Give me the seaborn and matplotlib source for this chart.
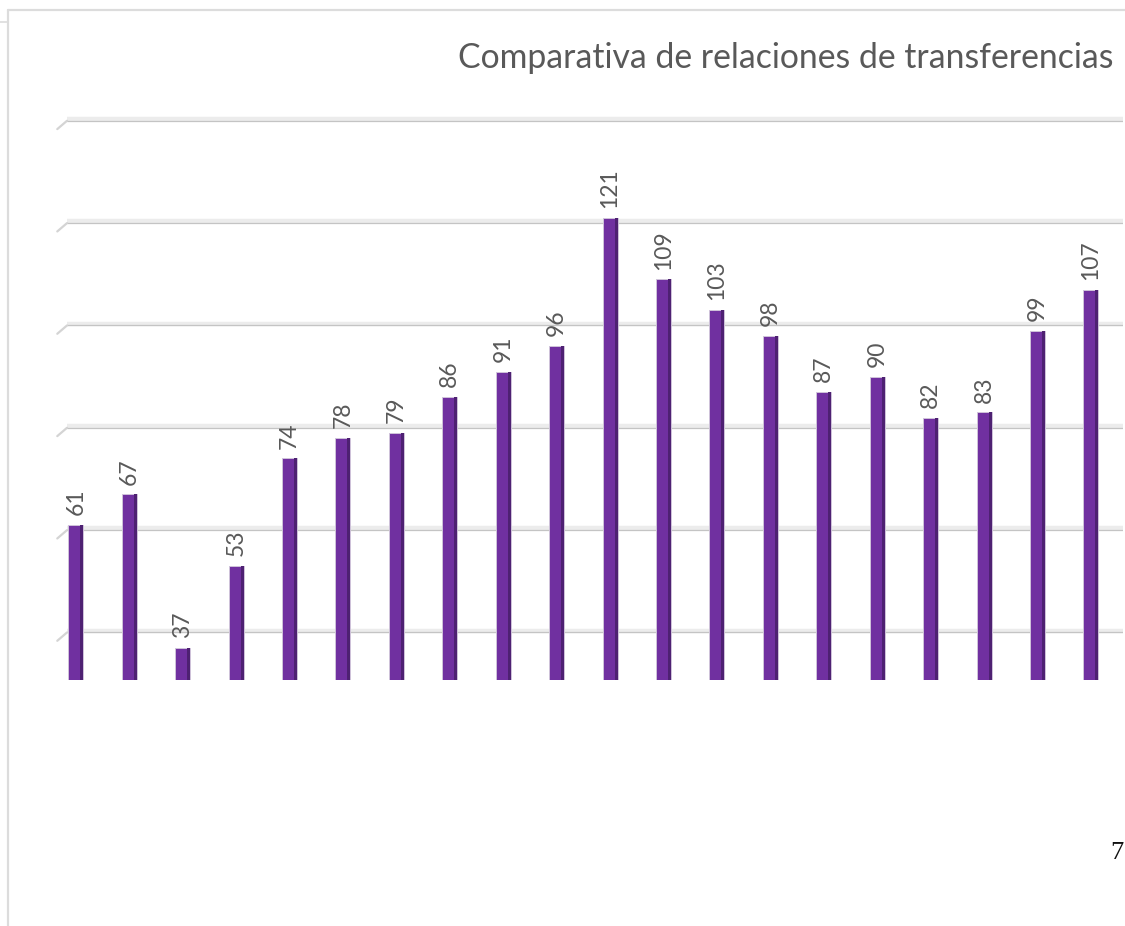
import matplotlib
matplotlib.use("Agg")
import matplotlib.pyplot as plt
import matplotlib.patheffects as pe
from matplotlib.lines import Line2D
from matplotlib.patches import Rectangle
import seaborn as sns

# data (20 bars, categories unlabeled in the crop)
categories = [str(i + 1) for i in range(20)]
values = [61, 67, 37, 53, 74, 78, 79, 86, 91, 96,
          121, 109, 103, 98, 87, 90, 82, 83, 99, 107]
grid_ticks = [40, 60, 80, 100, 120, 140]
title = "Comparativa de relaciones de transferencias"
page_number = "7"

sns.set_theme(style="white")
plt.rcParams["font.family"] = ["Lato", "DejaVu Sans"]

W, H = 1125, 926
fig = plt.figure(figsize=(W / 100, H / 100), dpi=100)
ax = fig.add_axes([67 / W, (H - 680) / H, (1123 - 67) / W, (680 - 100) / H])

sns.barplot(x=categories, y=values, color="#7030A0", saturation=1,
            width=0.28, edgecolor="#cfc3da", linewidth=0.7, ax=ax, zorder=3)

# darker right side of each bar for the 3D look
for p in ax.patches:
    x0, w, h = p.get_x(), p.get_width(), p.get_height()
    ax.add_patch(Rectangle((x0 + w * 0.8, 0), w * 0.2, h,
                           facecolor="#4e2172", edgecolor="none", zorder=3.5))

ax.bar_label(ax.containers[0], rotation=90, padding=7,
             color="#595959", fontsize=16.5)

ax.set_xlim(-0.165, 19.6)
ax.set_ylim(30.71, 144.06)
ax.set_yticks(grid_ticks)
ax.set_yticklabels([])
ax.set_xticks([])
ax.set_xlabel("")
ax.set_ylabel("")
ax.grid(axis="y", color="#c4c4c4", linewidth=0.9, zorder=1)
ax.set_axisbelow(True)
for gl in ax.yaxis.get_gridlines():
    gl.set_path_effects([pe.Stroke(linewidth=3.2, foreground="#ececec", offset=(0, 1.2)),
                         pe.Normal()])
for s in ax.spines.values():
    s.set_visible(False)
ax.tick_params(left=False, bottom=False)

# little slanted stubs at the left end of each gridline
for v in grid_ticks:
    ax.annotate("", xy=(0, v), xycoords=ax.get_yaxis_transform(),
                xytext=(-7, -6), textcoords="offset points",
                arrowprops=dict(arrowstyle="-", color="#d4d4d4", lw=1.6,
                                shrinkA=0, shrinkB=0),
                annotation_clip=False)

fig.text(1113 / W, (H - 68) / H, title, ha="right", va="baseline",
         fontsize=24.3, color="#595959")

# page frame bits and page number
frame = "#dcdcdc"
fig.add_artist(Line2D([7.5 / W, 7.5 / W], [0, (H - 10) / H], color=frame, lw=1.6))
fig.add_artist(Line2D([7.5 / W, 1], [(H - 10) / H, (H - 10) / H], color=frame, lw=1.6))
fig.add_artist(Line2D([0, 7.5 / W], [(H - 22) / H, (H - 22) / H], color=frame, lw=1.2))
fig.text(1117 / W, (H - 859) / H, page_number, ha="center", va="baseline",
         fontsize=19, color="#111111", family=["Liberation Serif", "DejaVu Serif"])

fig.savefig("out.png", dpi=100)
